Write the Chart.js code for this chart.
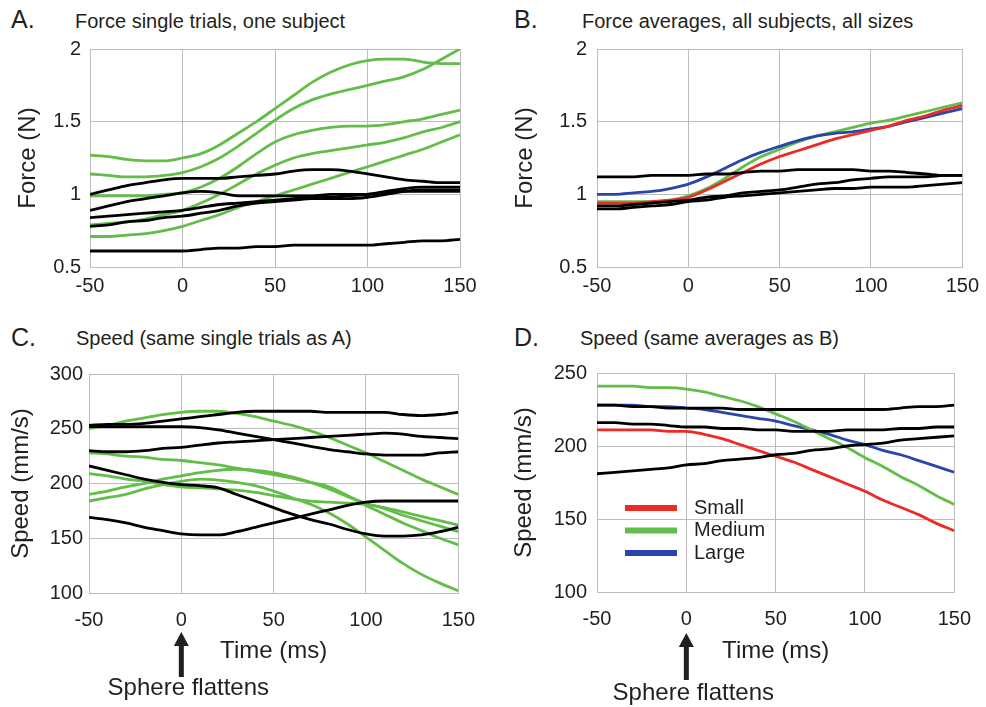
<!DOCTYPE html>
<html lang="en">
<head>
<meta charset="UTF-8">
<title>Force and speed</title>
<script src="https://cdn.jsdelivr.net/npm/chart.js"></script>
<style>
  body { margin: 0; background: #fff; }
  #page { position: relative; width: 986px; height: 707px; font-family: "Liberation Sans", Arial, sans-serif; color: #231f20; }
  #page canvas { position: absolute; }
  .letter { position: absolute; font-size: 25px; line-height: 25px; }
  .title { position: absolute; font-size: 20px; line-height: 20px; white-space: nowrap; }
</style>
</head>
<body>
<div id="page">
  <div class="letter" style="left:11px; top:7px;">A.</div>
  <div class="title" style="left:75px; top:11px;">Force single trials, one subject</div>
  <div class="letter" style="left:514px; top:7px;">B.</div>
  <div class="title" style="left:582px; top:11px;">Force averages, all subjects, all sizes</div>
  <div class="letter" style="left:11px; top:325px;">C.</div>
  <div class="title" style="left:76px; top:328px;">Speed (same single trials as A)</div>
  <div class="letter" style="left:514px; top:325px;">D.</div>
  <div class="title" style="left:580px; top:328px;">Speed (same averages as B)</div>

  <canvas id="chartA" width="490" height="310" style="left:0; top:0;"></canvas>
  <canvas id="chartB" width="496" height="310" style="left:490px; top:0;"></canvas>
  <canvas id="chartC" width="490" height="377" style="left:0; top:330px;"></canvas>
  <canvas id="chartD" width="496" height="377" style="left:490px; top:330px;"></canvas>
</div>

<script>
// time axis, ms (sampled every 10 ms)
const timeMs = [-50, -40, -30, -20, -10, 0, 10, 20, 30, 40, 50, 60, 70, 80, 90, 100, 110, 120, 130, 140, 150];
const timeTicks = [-50, 0, 50, 100, 150];

// A: force single trials (N)
const forceTrialsGreen = [
  [1.27, 1.26, 1.24, 1.23, 1.23, 1.25, 1.28, 1.34, 1.42, 1.50, 1.59, 1.68, 1.77, 1.84, 1.89, 1.92, 1.93, 1.93, 1.91, 1.90, 1.90],
  [1.14, 1.13, 1.12, 1.12, 1.13, 1.15, 1.19, 1.25, 1.33, 1.42, 1.51, 1.59, 1.65, 1.69, 1.72, 1.75, 1.78, 1.81, 1.86, 1.93, 2.00],
  [0.99, 0.99, 0.99, 0.99, 1.00, 1.01, 1.05, 1.11, 1.19, 1.28, 1.36, 1.41, 1.44, 1.46, 1.47, 1.47, 1.48, 1.50, 1.52, 1.55, 1.58],
  [0.79, 0.80, 0.81, 0.83, 0.86, 0.89, 0.94, 1.00, 1.07, 1.14, 1.20, 1.25, 1.28, 1.30, 1.32, 1.34, 1.36, 1.39, 1.43, 1.46, 1.50],
  [0.71, 0.71, 0.72, 0.73, 0.75, 0.78, 0.82, 0.86, 0.91, 0.95, 0.99, 1.03, 1.07, 1.11, 1.15, 1.19, 1.23, 1.27, 1.31, 1.36, 1.41]
];
const forceTrialsBlack = [
  [1.00, 1.03, 1.06, 1.08, 1.10, 1.11, 1.11, 1.11, 1.12, 1.13, 1.14, 1.16, 1.17, 1.17, 1.16, 1.14, 1.12, 1.10, 1.09, 1.08, 1.08],
  [0.89, 0.92, 0.95, 0.97, 0.99, 1.01, 1.02, 1.01, 0.99, 0.99, 0.99, 0.99, 0.99, 1.00, 1.00, 1.00, 1.01, 1.02, 1.02, 1.02, 1.02],
  [0.84, 0.85, 0.86, 0.87, 0.88, 0.89, 0.91, 0.93, 0.94, 0.95, 0.96, 0.97, 0.98, 0.98, 0.99, 1.00, 1.02, 1.04, 1.05, 1.05, 1.05],
  [0.78, 0.79, 0.81, 0.82, 0.84, 0.85, 0.87, 0.89, 0.92, 0.94, 0.95, 0.96, 0.97, 0.97, 0.97, 0.98, 1.00, 1.02, 1.03, 1.03, 1.03],
  [0.61, 0.61, 0.61, 0.61, 0.61, 0.61, 0.62, 0.63, 0.63, 0.64, 0.64, 0.65, 0.65, 0.65, 0.65, 0.65, 0.66, 0.67, 0.68, 0.68, 0.69]
];

// B: force averages (N)
const forceAvgSmall  = [0.94, 0.94, 0.94, 0.95, 0.96, 0.98, 1.03, 1.09, 1.15, 1.21, 1.26, 1.30, 1.34, 1.38, 1.41, 1.44, 1.47, 1.51, 1.54, 1.58, 1.61];
const forceAvgMedium = [0.95, 0.95, 0.95, 0.95, 0.96, 0.99, 1.04, 1.11, 1.19, 1.26, 1.31, 1.36, 1.40, 1.43, 1.46, 1.49, 1.51, 1.54, 1.57, 1.60, 1.63];
const forceAvgLarge  = [1.00, 1.00, 1.01, 1.02, 1.04, 1.07, 1.12, 1.18, 1.24, 1.29, 1.33, 1.37, 1.40, 1.42, 1.43, 1.45, 1.47, 1.50, 1.53, 1.56, 1.59];
const forceAvgBlack = [
  [1.12, 1.12, 1.12, 1.13, 1.13, 1.13, 1.14, 1.14, 1.15, 1.16, 1.16, 1.17, 1.17, 1.17, 1.17, 1.16, 1.16, 1.15, 1.14, 1.13, 1.13],
  [0.92, 0.92, 0.93, 0.94, 0.95, 0.96, 0.98, 0.99, 1.01, 1.02, 1.03, 1.05, 1.07, 1.08, 1.10, 1.11, 1.12, 1.12, 1.12, 1.13, 1.13],
  [0.90, 0.90, 0.91, 0.92, 0.93, 0.95, 0.96, 0.98, 0.99, 1.00, 1.01, 1.02, 1.03, 1.04, 1.04, 1.05, 1.05, 1.05, 1.06, 1.07, 1.08]
];

// C: speed single trials (mm/s)
const speedTrialsGreen = [
  [250, 253, 257, 260, 263, 265, 266, 266, 264, 261, 257, 253, 248, 242, 235, 228, 220, 212, 204, 197, 190],
  [228, 227, 225, 224, 222, 221, 219, 217, 214, 211, 208, 205, 201, 197, 189, 180, 172, 164, 157, 150, 144],
  [209, 207, 204, 202, 199, 197, 196, 195, 194, 192, 189, 186, 184, 183, 182, 181, 178, 174, 170, 166, 162],
  [190, 193, 197, 200, 204, 207, 210, 212, 213, 212, 210, 206, 201, 195, 188, 182, 177, 171, 166, 161, 156],
  [184, 187, 190, 195, 199, 202, 204, 203, 201, 198, 193, 187, 181, 173, 163, 151, 139, 127, 117, 109, 102]
];
const speedTrialsBlack = [
  [253, 254, 254, 255, 257, 259, 261, 263, 265, 266, 266, 266, 266, 265, 265, 265, 265, 263, 262, 263, 265],
  [252, 252, 252, 252, 252, 252, 251, 249, 246, 243, 240, 237, 234, 231, 229, 227, 226, 226, 226, 228, 229],
  [230, 229, 229, 230, 232, 233, 235, 237, 238, 239, 240, 241, 242, 243, 244, 245, 246, 245, 243, 242, 241],
  [216, 212, 208, 204, 201, 199, 198, 196, 190, 184, 178, 172, 167, 163, 158, 154, 152, 152, 153, 156, 160],
  [169, 167, 164, 160, 157, 154, 153, 153, 156, 160, 164, 168, 172, 176, 180, 183, 184, 184, 184, 184, 184]
];

// D: speed averages (mm/s)
const speedAvgSmall  = [211, 211, 211, 211, 210, 210, 208, 205, 201, 197, 193, 189, 184, 179, 174, 169, 163, 158, 153, 147, 142];
const speedAvgMedium = [241, 241, 241, 240, 240, 239, 237, 234, 231, 227, 222, 217, 211, 205, 199, 192, 186, 179, 173, 166, 160];
const speedAvgLarge  = [228, 228, 228, 227, 227, 226, 225, 223, 221, 219, 217, 214, 211, 208, 204, 201, 197, 194, 190, 186, 182];
const speedAvgBlack = [
  [228, 228, 227, 227, 226, 226, 226, 226, 225, 225, 225, 225, 225, 225, 225, 225, 225, 226, 227, 227, 228],
  [216, 216, 215, 215, 214, 213, 213, 212, 212, 211, 211, 210, 210, 210, 211, 211, 211, 212, 212, 213, 213],
  [181, 182, 183, 184, 185, 187, 188, 190, 191, 192, 194, 195, 197, 198, 200, 201, 202, 204, 205, 206, 207]
];

const sizeLabels = ['Small', 'Medium', 'Large'];

const GREEN = 'rgb(98, 190, 72)';
const RED = 'rgb(236, 43, 36)';
const BLUE = 'rgb(43, 68, 170)';
const BLACK = '#000';
const GRID = '#bdbdbd';
const TEXT = '#231f20';
const FONT = '"Liberation Sans", Arial, sans-serif';

function toPoints(values) {
  return values.map((v, i) => ({ x: timeMs[i], y: v }));
}

function line(values, color, label) {
  return {
    label: label || '',
    data: toPoints(values),
    borderColor: color,
    backgroundColor: color,
    borderWidth: 2.8,
    pointRadius: 0,
    fill: false,
    cubicInterpolationMode: 'monotone'
  };
}

// arrow under t = 0 with "Sphere flattens"
const flattenMarker = {
  id: 'flattenMarker',
  afterDraw(chart, args, opts) {
    if (!opts.show) return;
    const ctx = chart.ctx;
    const x = chart.scales.x.getPixelForValue(0);
    const tip = chart.chartArea.bottom + opts.tip;
    const end = chart.chartArea.bottom + opts.end;
    ctx.save();
    ctx.fillStyle = TEXT;
    ctx.fillRect(x - 2.5, tip + 12, 5, end - tip - 12);
    ctx.beginPath();
    ctx.moveTo(x, tip);
    ctx.lineTo(x - 7.5, tip + 14);
    ctx.lineTo(x + 7.5, tip + 14);
    ctx.closePath();
    ctx.fill();
    ctx.font = '24px ' + FONT;
    ctx.textAlign = 'center';
    ctx.textBaseline = 'middle';
    ctx.fillText(opts.text, x + 7, chart.chartArea.bottom + opts.textY);
    ctx.restore();
  }
};

// legend drawn inside the plot area of D
const innerLegend = {
  id: 'innerLegend',
  afterDraw(chart, args, opts) {
    if (!opts.show) return;
    const ctx = chart.ctx;
    const items = chart.data.datasets.filter(d => d.label);
    ctx.save();
    ctx.font = '20px ' + FONT;
    ctx.textBaseline = 'middle';
    items.forEach((d, i) => {
      const y = opts.y + i * opts.step;
      ctx.strokeStyle = d.borderColor;
      ctx.lineWidth = 6;
      ctx.beginPath();
      ctx.moveTo(opts.x, y);
      ctx.lineTo(opts.x + 52, y);
      ctx.stroke();
      ctx.fillStyle = TEXT;
      ctx.fillText(d.label, opts.x + 69, y);
    });
    ctx.restore();
  }
};

function makeChart(id, cfg) {
  const ctx = document.getElementById(id).getContext('2d');
  return new Chart(ctx, {
    type: 'line',
    data: { datasets: cfg.datasets },
    plugins: [flattenMarker, innerLegend],
    options: {
      responsive: false,
      animation: false,
      layout: { padding: cfg.padding },
      plugins: {
        legend: { display: false },
        tooltip: { enabled: false },
        flattenMarker: cfg.marker || { show: false },
        innerLegend: cfg.legend || { show: false }
      },
      scales: {
        x: {
          type: 'linear',
          min: -50,
          max: 150,
          afterBuildTicks: s => { s.ticks = timeTicks.map(v => ({ value: v })); },
          afterFit: s => { s.height = cfg.xHeight; },
          grid: { color: GRID, drawTicks: false },
          border: { color: GRID },
          ticks: { color: TEXT, font: { family: FONT, size: 20 }, padding: cfg.xPad, maxRotation: 0,
                   callback: v => String(v) },
          title: cfg.xTitle ? {
            display: true, text: cfg.xTitle, color: TEXT,
            font: { family: FONT, size: 24 }, padding: { top: 0, bottom: cfg.xTitlePad }
          } : { display: false }
        },
        y: {
          min: cfg.yMin,
          max: cfg.yMax,
          afterBuildTicks: s => { s.ticks = cfg.yTicks.map(v => ({ value: v })); },
          afterFit: s => { s.width = cfg.yWidth; },
          grid: { color: GRID, drawTicks: false },
          border: { color: GRID },
          ticks: { color: TEXT, font: { family: FONT, size: 20 }, padding: cfg.yPad,
                   callback: v => String(v) },
          title: {
            display: true, text: cfg.yTitle, color: TEXT,
            font: { family: FONT, size: cfg.yTitleSize }, padding: { top: cfg.yTitlePad, bottom: 0 }
          }
        }
      }
    }
  });
}

const forceTicks = [0.5, 1, 1.5, 2];

makeChart('chartA', {
  datasets: [
    ...forceTrialsBlack.map(v => line(v, BLACK)),
    ...forceTrialsGreen.map(v => line(v, GREEN))
  ],
  padding: { top: 49, right: 30, bottom: 0, left: 0 },
  xHeight: 43, xPad: 7,
  yMin: 0.5, yMax: 2, yTicks: forceTicks, yWidth: 90, yPad: 9,
  yTitle: 'Force (N)', yTitleSize: 24, yTitlePad: 14
});

makeChart('chartB', {
  datasets: [
    ...forceAvgBlack.map(v => line(v, BLACK)),
    line(forceAvgSmall, RED),
    line(forceAvgLarge, BLUE),
    line(forceAvgMedium, GREEN)
  ],
  padding: { top: 49, right: 21, bottom: 0, left: 0 },
  xHeight: 43, xPad: 7,
  yMin: 0.5, yMax: 2, yTicks: forceTicks, yWidth: 107, yPad: 10,
  yTitle: 'Force (N)', yTitleSize: 24, yTitlePad: 21
});

makeChart('chartC', {
  datasets: [
    ...speedTrialsBlack.map(v => line(v, BLACK)),
    ...speedTrialsGreen.map(v => line(v, GREEN))
  ],
  padding: { top: 44, right: 30, bottom: 30, left: 0 },
  xHeight: 84, xPad: 15, xTitle: 'Time (ms)', xTitlePad: 11,
  yMin: 100, yMax: 300, yTicks: [100, 150, 200, 250, 300], yWidth: 89, yPad: 6,
  yTitle: 'Speed (mm/s)', yTitleSize: 24, yTitlePad: 7,
  marker: { show: true, text: 'Sphere flattens', tip: 39, end: 84, textY: 95 }
});

makeChart('chartD', {
  datasets: [
    ...speedAvgBlack.map(v => line(v, BLACK)),
    line(speedAvgSmall, RED, sizeLabels[0]),
    line(speedAvgMedium, GREEN, sizeLabels[1]),
    line(speedAvgLarge, BLUE, sizeLabels[2])
  ],
  padding: { top: 43, right: 22, bottom: 30, left: 0 },
  xHeight: 85, xPad: 15, xTitle: 'Time (ms)', xTitlePad: 11,
  yMin: 100, yMax: 250, yTicks: [100, 150, 200, 250], yWidth: 107, yPad: 10,
  yTitle: 'Speed (mm/s)', yTitleSize: 24, yTitlePad: 20,
  marker: { show: true, text: 'Sphere flattens', tip: 41, end: 88, textY: 101 },
  legend: { show: true, x: 135, y: 178, step: 22.5 }
});
</script>
</body>
</html>
